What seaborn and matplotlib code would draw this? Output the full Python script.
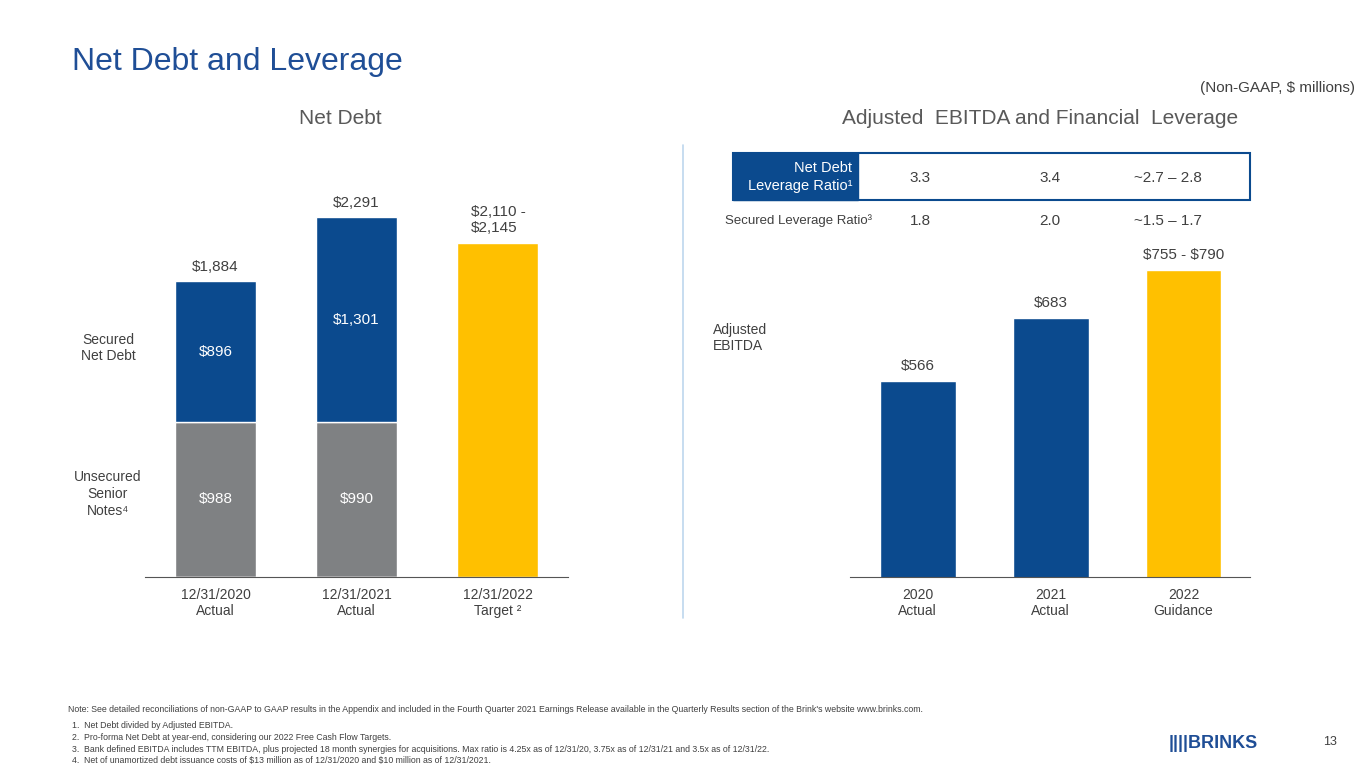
import matplotlib.pyplot as plt
import seaborn as sns
import pandas as pd
from matplotlib.patches import Rectangle
from matplotlib.lines import Line2D

sns.set_style("white")
plt.rcParams['font.family'] = ['Liberation Sans', 'DejaVu Sans']

BLUE = "#0B4A8E"
GRAY = "#7F8183"
GOLD = "#FFC000"
TXT = "#404040"

# left chart: net debt
debt_cats = ["12/31/2020\nActual", "12/31/2021\nActual", "12/31/2022\nTarget ²"]
unsecured = [988, 990, 0]
secured = [896, 1301, 0]
target = [0, 0, 2127.5]
debt_totals = ["\\$1,884", "\\$2,291", "\\$2,110 -\n\\$2,145"]

# right chart: EBITDA
ebitda_cats = ["2020\nActual", "2021\nActual", "2022\nGuidance"]
ebitda = [566, 683, 772.5]
ebitda_labels = ["\\$566", "\\$683", "\\$755 - \\$790"]
net_lev = ["3.3", "3.4", "~2.7 – 2.8"]
sec_lev = ["1.8", "2.0", "~1.5 – 1.7"]

W, H = 1365, 768
fig = plt.figure(figsize=(13.65, 7.68), dpi=100)

def fx(x): return x / W
def fy(y): return 1 - y / H

fig.text(fx(72), fy(62), "Net Debt and Leverage", fontsize=23, color="#1F4E96", va="center")
fig.text(fx(1355), fy(88), "(Non-GAAP, \\$ millions)", fontsize=11, color=TXT, ha="right", va="center")
fig.text(fx(340), fy(118), "Net Debt", fontsize=15, color="#595959", ha="center", va="center")
fig.text(fx(1040), fy(118), "Adjusted  EBITDA and Financial  Leverage", fontsize=15, color="#595959",
         ha="center", va="center")

# left axes
ax1 = fig.add_axes([fx(145), fy(577), fx(568 - 145), 408 / H])
df = pd.DataFrame({"cat": debt_cats, "uns": unsecured, "sec": secured, "tgt": target})
sns.barplot(data=df, x="cat", y="uns", color=GRAY, width=0.574, saturation=1, ax=ax1)
ax1.bar(range(3), df.sec, bottom=df.uns, color=BLUE, width=0.574)
ax1.bar(range(3), df.tgt, color=GOLD, width=0.574)
ax1.set_xlim(-0.5, 2.5)
ax1.set_ylim(0, 2600)
for i in range(2):
    ax1.text(i, unsecured[i] / 2, f"\\${unsecured[i]:,}", color="white", ha="center", va="center", fontsize=11)
    ax1.text(i, unsecured[i] + secured[i] / 2, f"\\${secured[i]:,}", color="white", ha="center",
             va="center", fontsize=11)
tops = [1884, 2291, 2127.5]
for i, t in enumerate(debt_totals):
    ax1.text(i if i < 2 else 1.81, tops[i] + 50, t, ha="center" if i < 2 else "left", va="bottom",
             fontsize=11, color=TXT, linespacing=1.2)
ax1.set_xticks(range(3))
ax1.set_xticklabels(debt_cats, fontsize=10, color=TXT)

# right axes
ax2 = fig.add_axes([fx(850), fy(577), fx(1250 - 850), 408 / H])
df2 = pd.DataFrame({"cat": ebitda_cats, "v": ebitda})
sns.barplot(data=df2, x="cat", y="v", palette=[BLUE, BLUE, GOLD], hue="cat", legend=False,
            width=0.57, saturation=1, ax=ax2)
ax2.set_xlim(-0.51, 2.5)
ax2.set_ylim(202, 960)
for i, lab in enumerate(ebitda_labels):
    ax2.text(i, ebitda[i] + 15, lab, ha="center", va="bottom", fontsize=11, color=TXT)
ax2.set_xticks(range(3))
ax2.set_xticklabels(ebitda_cats, fontsize=10, color=TXT)

for ax in (ax1, ax2):
    sns.despine(ax=ax, left=True)
    ax.spines["bottom"].set_color("#555555")
    ax.set_yticks([])
    ax.set_xlabel("")
    ax.set_ylabel("")
    ax.tick_params(axis="x", length=0, pad=8)
    ax.patch.set_alpha(0)

# side labels
fig.text(fx(108), fy(348), "Secured\nNet Debt", fontsize=10, color=TXT, ha="center", va="center")
fig.text(fx(108), fy(494), "Unsecured\nSenior\nNotes⁴", fontsize=10, color=TXT, ha="center", va="center",
         linespacing=1.3)
fig.text(fx(713), fy(338), "Adjusted\nEBITDA", fontsize=10, color=TXT, ha="left", va="center")

# separator
fig.add_artist(Line2D([fx(683), fx(683)], [fy(145), fy(618)], color="#BDD7EE", lw=1.2))

# leverage table
fig.add_artist(Rectangle((fx(733), fy(200)), fx(1250 - 733), (200 - 153) / H, fill=False,
                         edgecolor=BLUE, lw=1.5))
fig.add_artist(Rectangle((fx(733), fy(200)), fx(858 - 733), (200 - 153) / H, color=BLUE))
fig.text(fx(852), fy(177), "Net Debt\nLeverage Ratio¹", fontsize=10.5, color="white", ha="right",
         va="center", linespacing=1.3)
vx = [920, 1050, 1168]
for x, a, b in zip(vx, net_lev, sec_lev):
    fig.text(fx(x), fy(178), a, fontsize=11, color=TXT, ha="center", va="center")
    fig.text(fx(x), fy(221), b, fontsize=11, color=TXT, ha="center", va="center")
fig.text(fx(872), fy(221), "Secured Leverage Ratio³", fontsize=9.5, color=TXT, ha="right", va="center")

# footnotes
fig.text(fx(68), fy(710), "Note: See detailed reconciliations of non-GAAP to GAAP results in the Appendix and included in the "
         "Fourth Quarter 2021 Earnings Release available in the Quarterly Results section of the Brink's website "
         "www.brinks.com.", fontsize=6.3, color=TXT, va="center")
notes = ["1.  Net Debt divided by Adjusted EBITDA.",
         "2.  Pro-forma Net Debt at year-end, considering our 2022 Free Cash Flow Targets.",
         "3.  Bank defined EBITDA includes TTM EBITDA, plus projected 18 month synergies for acquisitions. Max ratio is "
         "4.25x as of 12/31/20, 3.75x as of 12/31/21 and 3.5x as of 12/31/22.",
         "4.  Net of unamortized debt issuance costs of \\$13 million as of 12/31/2020 and \\$10 million as of 12/31/2021."]
for k, n in enumerate(notes):
    fig.text(fx(72), fy(726 + k * 11.5), n, fontsize=6.3, color=TXT, va="center")

fig.text(fx(1258), fy(743), "||||BRINKS", fontsize=13, fontweight="bold", color="#1F4E96", ha="right",
         va="center")
fig.text(fx(1330), fy(742), "13", fontsize=9, color=TXT, ha="center", va="center")

fig.savefig("out.png", dpi=100)
